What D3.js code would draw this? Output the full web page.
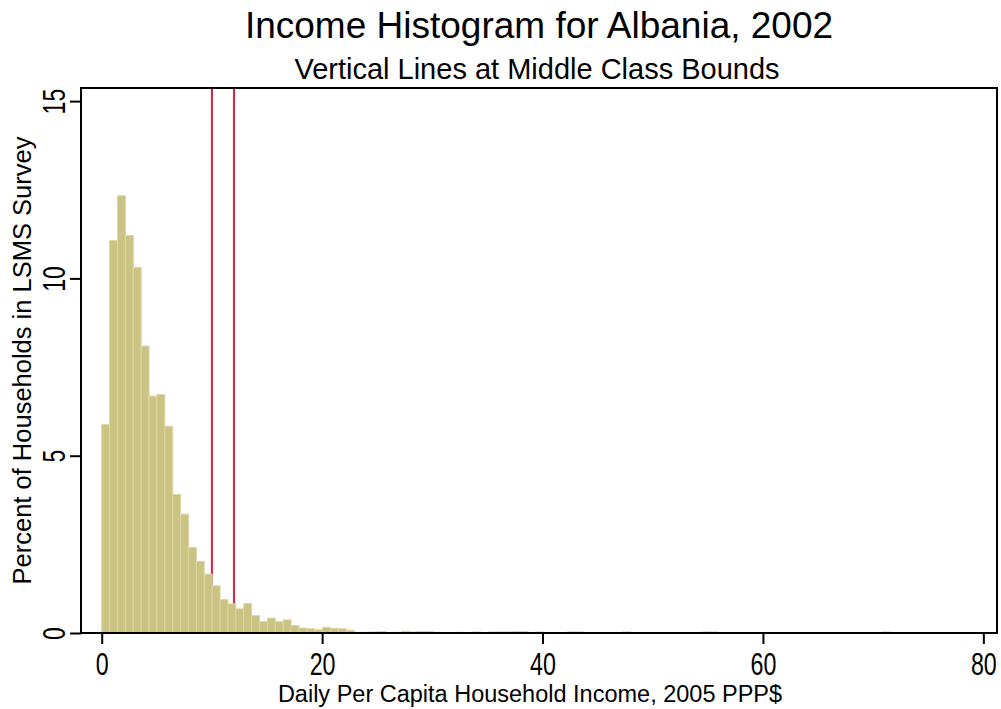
<!DOCTYPE html>
<html>
<head>
<meta charset="utf-8">
<script src="https://cdn.jsdelivr.net/npm/d3@7"></script>
<style>
  body { margin: 0; background: #fff; }
  text { font-family: "Liberation Sans", Arial, sans-serif; fill: #000; }
</style>
</head>
<body>
<div id="chart"></div>
<script>
var svgWidth = 1001;
var svgHeight = 709;

// histogram data: percent of households in each income bin (bin width in PPP$)
var binWidth = 0.716;
var percents = [
  5.88, 11.07, 12.33, 11.21, 10.31, 8.09, 6.68, 6.73, 5.83, 3.91,
  3.35, 2.41, 2.02, 1.66, 1.33, 0.94, 0.82, 0.68, 0.83, 0.49,
  0.32, 0.42, 0.32, 0.37, 0.21, 0.14, 0.12, 0.09, 0.16, 0.13,
  0.12, 0.08, 0.02, 0.02, 0.03, 0.04, 0, 0.02, 0.05, 0.03,
  0.04, 0.04, 0.02, 0, 0, 0.02, 0, 0.03, 0, 0.03,
  0.03, 0.03, 0.04, 0.04, 0, 0.03, 0, 0, 0, 0.03,
  0.03, 0, 0, 0, 0, 0, 0.03, 0, 0, 0,
  0, 0, 0, 0, 0, 0, 0.03, 0.03, 0, 0,
  0, 0, 0, 0, 0, 0, 0, 0, 0, 0,
  0, 0, 0, 0, 0, 0, 0, 0, 0, 0.03
];
// middle class bounds
var bounds = [10, 12];
var xTicks = [0, 20, 40, 60, 80];
var yTicks = [0, 5, 10, 15];

var plot = { left: 81, right: 997, top: 88, bottom: 633 };

var svg = d3.select("#chart")
  .append("svg")
  .attr("width", svgWidth)
  .attr("height", svgHeight);

var x = d3.scaleLinear()
  .domain([-1.88, 81.24])
  .range([plot.left, plot.right]);

var y = d3.scaleLinear()
  .domain([0, 15.37])
  .range([plot.bottom, plot.top]);

// vertical lines at bounds (drawn under bars)
svg.selectAll(".bound")
  .data(bounds)
  .enter()
  .append("line")
  .attr("x1", d => x(d))
  .attr("x2", d => x(d))
  .attr("y1", plot.top)
  .attr("y2", plot.bottom)
  .attr("stroke", "#d81e44")
  .attr("stroke-width", 2);

// bars
var bins = percents.map((p, i) => ({ x0: i * binWidth, x1: (i + 1) * binWidth, p: p }));

svg.append("g")
  .selectAll("rect")
  .data(bins.filter(d => d.p > 0))
  .enter()
  .append("rect")
  .attr("x", d => x(d.x0))
  .attr("width", d => x(d.x1) - x(d.x0))
  .attr("y", d => y(d.p))
  .attr("height", d => y(0) - y(d.p))
  .attr("fill", "#cac383")
  .attr("stroke", "#dcd7a2")
  .attr("stroke-width", 1);

// frame
svg.append("rect")
  .attr("x", plot.left)
  .attr("y", plot.top)
  .attr("width", plot.right - plot.left)
  .attr("height", plot.bottom - plot.top)
  .attr("fill", "none")
  .attr("stroke", "#000")
  .attr("stroke-width", 2);

// x axis (narrow digits)
var xAxis = svg.append("g")
  .attr("transform", `translate(0, ${plot.bottom})`)
  .call(d3.axisBottom(x).tickValues(xTicks).tickSize(11).tickPadding(9).tickSizeOuter(0));
xAxis.select(".domain").remove();
xAxis.selectAll("line").attr("stroke-width", 2);
xAxis.selectAll("text")
  .attr("font-size", 31)
  .attr("fill", "#000")
  .attr("y", 20)
  .attr("dy", 0)
  .attr("transform", "translate(0, 22) scale(0.75, 1)");

// y axis, labels rotated like Stata
var yAxis = svg.append("g")
  .attr("transform", `translate(${plot.left}, 0)`)
  .call(d3.axisLeft(y).tickValues(yTicks).tickSize(11).tickSizeOuter(0));
yAxis.select(".domain").remove();
yAxis.selectAll("line").attr("stroke-width", 2);
yAxis.selectAll("text")
  .attr("font-size", 32)
  .attr("fill", "#000")
  .attr("text-anchor", "middle")
  .attr("x", 0)
  .attr("dy", 0)
  .attr("transform", "translate(-16, 0) rotate(-90) scale(0.72, 1)");

// titles
var cx = (plot.left + plot.right) / 2;
svg.append("text")
  .attr("x", cx)
  .attr("y", 38)
  .attr("text-anchor", "middle")
  .attr("font-size", 37)
  .text("Income Histogram for Albania, 2002");

svg.append("text")
  .attr("x", cx - 2)
  .attr("y", 79)
  .attr("text-anchor", "middle")
  .attr("font-size", 29)
  .text("Vertical Lines at Middle Class Bounds");

svg.append("text")
  .attr("x", 530)
  .attr("y", 702)
  .attr("text-anchor", "middle")
  .attr("font-size", 23.5)
  .text("Daily Per Capita Household Income, 2005 PPP$");

svg.append("text")
  .attr("transform", `translate(31, ${(plot.top + plot.bottom) / 2}) rotate(-90)`)
  .attr("text-anchor", "middle")
  .attr("font-size", 25.5)
  .text("Percent of Households in LSMS Survey");
</script>
</body>
</html>
